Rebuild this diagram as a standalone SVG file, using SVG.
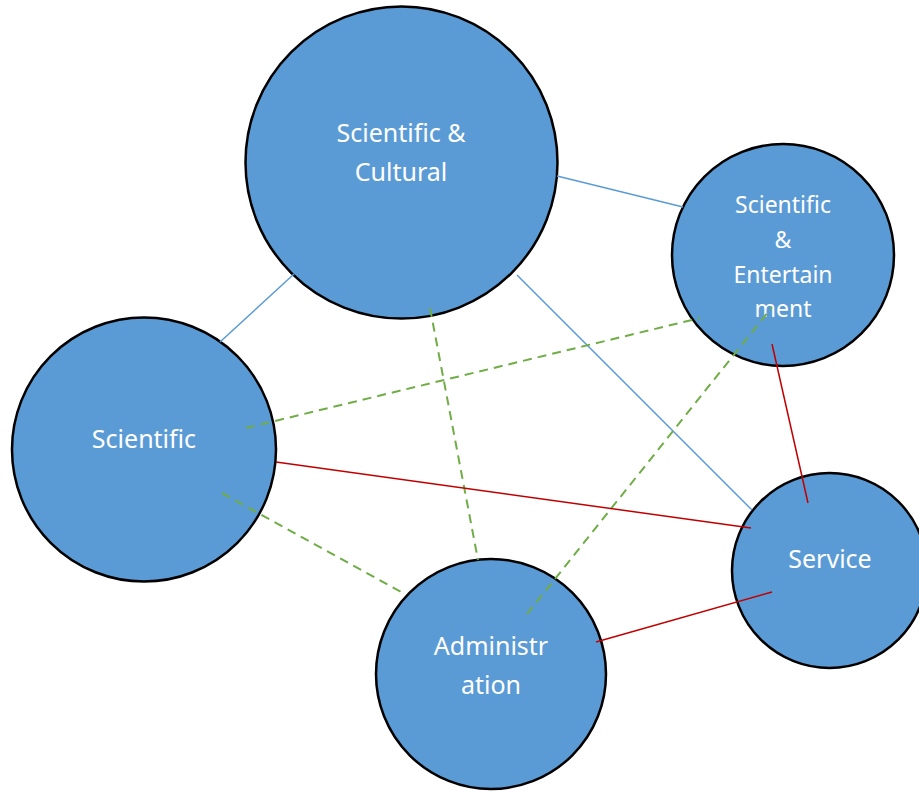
<svg xmlns="http://www.w3.org/2000/svg" width="919" height="791" viewBox="0 0 919 791">
<style>
.node{fill:#5B9BD5;stroke:#000;stroke-width:2.5}
.lbl{font-family:"Noto Sans","Open Sans",sans-serif;font-size:25px;fill:#fff;text-anchor:middle}
.sm{font-size:23px}
.blue{stroke:#5B9BD5;stroke-width:1.5;fill:none}
.green{stroke:#70AD47;stroke-width:2;stroke-dasharray:9,6;fill:none}
.red{stroke:#C00000;stroke-width:1.5;fill:none}
</style>
<rect width="919" height="791" fill="#fff"/>
<g id="node-sci-cultural">
<circle class="node" cx="401.5" cy="162.5" r="156"/>
<text class="lbl" x="401" y="142">Scientific &amp;</text>
<text class="lbl" x="401" y="181">Cultural</text>
</g>
<g id="node-sci-entertainment">
<circle class="node" cx="783" cy="255" r="111"/>
<text class="lbl sm" x="783" y="213">Scientific</text>
<text class="lbl sm" x="783" y="248">&amp;</text>
<text class="lbl sm" x="783" y="283">Entertain</text>
<text class="lbl sm" x="783" y="317">ment</text>
</g>
<g id="node-scientific">
<circle class="node" cx="144" cy="449.5" r="132"/>
<text class="lbl" x="144" y="448">Scientific</text>
</g>
<g id="node-administration">
<circle class="node" cx="491" cy="674" r="115"/>
<text class="lbl" x="491" y="655">Administr</text>
<text class="lbl" x="491" y="694">ation</text>
</g>
<g id="node-service">
<circle class="node" cx="829.5" cy="570.5" r="97.5"/>
<text class="lbl" x="830" y="568">Service</text>
</g>
<g id="connectors">
<line class="blue" x1="557" y1="176" x2="683" y2="207"/>
<line class="blue" x1="294" y1="274" x2="220" y2="342"/>
<line class="blue" x1="517" y1="275" x2="752" y2="510"/>
<line class="green" x1="246" y1="428" x2="700" y2="318"/>
<line class="green" x1="430" y1="308" x2="478" y2="560"/>
<line class="green" x1="222" y1="493" x2="401" y2="592"/>
<line class="green" x1="527" y1="614" x2="772" y2="307"/>
<line class="red" x1="276" y1="462" x2="751" y2="528"/>
<line class="red" x1="772" y1="344" x2="808" y2="503"/>
<line class="red" x1="596" y1="642" x2="772" y2="592"/>
</g>
</svg>
